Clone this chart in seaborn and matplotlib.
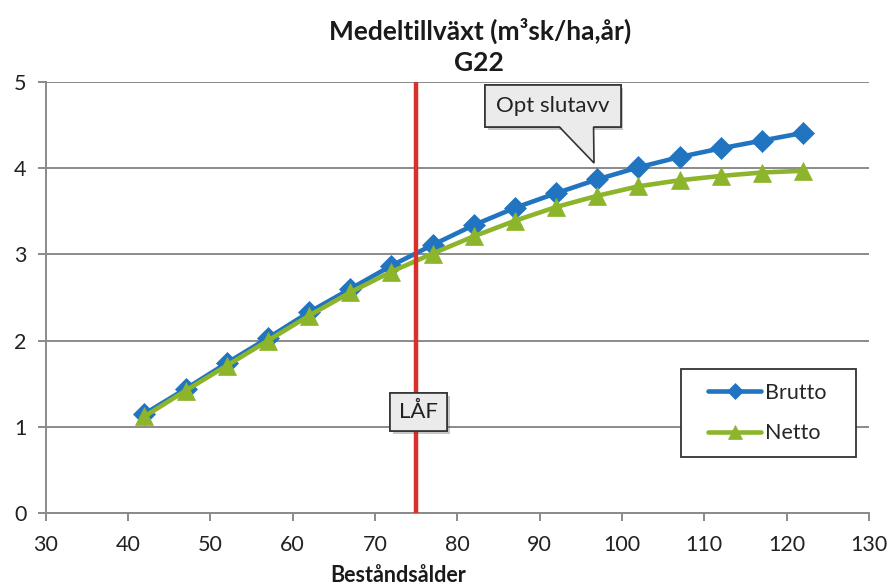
import matplotlib
matplotlib.use("Agg")
import matplotlib.pyplot as plt
import matplotlib.patheffects as pe
from matplotlib.patches import Rectangle, Polygon
import seaborn as sns
import pandas as pd

# Stand age (years) and mean annual increment (m3sk/ha, year)
ages = [42, 47, 52, 57, 62, 67, 72, 77, 82, 87, 92, 97, 102, 107, 112, 117, 122]
brutto = [1.15, 1.44, 1.74, 2.03, 2.33, 2.60, 2.87, 3.11, 3.34, 3.54, 3.71,
          3.87, 4.01, 4.13, 4.23, 4.32, 4.41]
netto = [1.12, 1.42, 1.71, 2.00, 2.29, 2.56, 2.80, 3.01, 3.21, 3.39, 3.55,
         3.68, 3.79, 3.86, 3.91, 3.95, 3.97]
series_names = ["Brutto", "Netto"]
x_ticks = [30, 40, 50, 60, 70, 80, 90, 100, 110, 120, 130]
y_ticks = [0, 1, 2, 3, 4, 5]
laf_age = 75
opt_point = (96.6, 4.06)

sns.set_theme(style="white")
plt.rcParams["font.family"] = ["Lato", "DejaVu Sans"]

df = pd.DataFrame({"age": ages, "Brutto": brutto, "Netto": netto})

fig = plt.figure(figsize=(8.88, 5.87), dpi=100)
ax = fig.add_axes([45.7 / 888, 74 / 587, 823.3 / 888, 431 / 587])

blue = "#2174c0"
green = "#8db52b"
box_fc = "#ebebeb"
box_ec = "#333333"

sns.lineplot(data=df, x="age", y="Brutto", ax=ax, color=blue, lw=3.3,
             marker="D", markersize=11, markeredgecolor=blue,
             markeredgewidth=0.5, label=series_names[0], zorder=4)
sns.lineplot(data=df, x="age", y="Netto", ax=ax, color=green, lw=3.3,
             marker="^", markersize=13.5, markeredgecolor=green,
             markeredgewidth=0.5, label=series_names[1], zorder=5)

# LÅF vertical marker
ax.plot([laf_age, laf_age], [0, 5], color="#d9302c", lw=3.2, zorder=6,
        solid_capstyle="butt")

ax.set_xlim(30, 130)
ax.set_ylim(0, 5)
ax.set_xticks(x_ticks)
ax.set_yticks(y_ticks)
ax.set_xticklabels([str(v) for v in x_ticks], fontsize=15.5, color="#222222")
ax.set_yticklabels([str(v) for v in y_ticks], fontsize=15.5, color="#222222")
ax.set_xlabel("")
ax.set_ylabel("")

ax.grid(axis="y", color="#8a8a8a", lw=1.4)
ax.grid(axis="x", visible=False)
ax.set_axisbelow(True)
for side in ["top", "right"]:
    ax.spines[side].set_visible(False)
for side in ["left", "bottom"]:
    ax.spines[side].set_color("#8a8a8a")
    ax.spines[side].set_linewidth(1.4)
ax.tick_params(axis="both", which="major", direction="out", length=6,
               width=1.4, color="#8a8a8a", pad=8, left=True, bottom=True)
ax.tick_params(axis="x", pad=10)

# Legend box drawn separately so its frame can be sized freely
frame = Rectangle((0.7716, 0.130), 0.2126, 0.204, transform=ax.transAxes,
                  fc="white", ec="#333333", lw=1.3, zorder=9)
ax.add_patch(frame)
leg = ax.legend(loc="center", bbox_to_anchor=(0.876, 0.232),
                frameon=False, fontsize=15.5, handlelength=2.5,
                handletextpad=0.15, labelspacing=0.95, borderpad=0,
                markerscale=0.75)
leg.set_zorder(10)

shadow = [pe.withSimplePatchShadow(offset=(2, -2), alpha=0.3),
          pe.Normal()]

# Callout "Opt slutavv": text box plus a pointer down to the curve
opt = ax.text(91.6, 4.72, "Opt slutavv", ha="center", va="center",
              fontsize=16, color="#222222", zorder=8,
              bbox=dict(boxstyle="square,pad=0.5", fc=box_fc, ec=box_ec,
                        lw=1.2))
opt.get_bbox_patch().set_path_effects(shadow)

fig.canvas.draw()
bb = opt.get_bbox_patch().get_window_extent(fig.canvas.get_renderer())
inv = ax.transData.inverted()
(bx0, by0), (bx1, by1) = inv.transform([(bb.x0, bb.y0), (bb.x1, bb.y1)])
base_l = bx0 + 0.55 * (bx1 - bx0)
base_r = bx0 + 0.80 * (bx1 - bx0)
eps = 0.015
ax.add_patch(Polygon([(base_l, by0 + eps), (base_r, by0 + eps), opt_point],
                     closed=True, fc=box_fc, ec="none", zorder=8.5))
ax.plot([base_l, opt_point[0], base_r], [by0, opt_point[1], by0],
        color=box_ec, lw=1.2, zorder=8.6, solid_joinstyle="miter")

laf = ax.text(laf_age + 0.3, 1.17, "LÅF", ha="center", va="center",
              fontsize=16, color="#222222", zorder=8,
              bbox=dict(boxstyle="square,pad=0.4", fc=box_fc, ec=box_ec,
                        lw=1.2))
laf.get_bbox_patch().set_path_effects(shadow)

fig.text(480 / 888, 1 - 31 / 587, "Medeltillväxt (m³sk/ha,år)", ha="center",
         va="center", fontsize=19, fontweight="bold", color="#1a1a1a")
fig.text(479 / 888, 1 - 63 / 587, "G22", ha="center", va="center",
         fontsize=19, fontweight="bold", color="#1a1a1a")
fig.text(398 / 888, 1 - 576 / 587, "Beståndsålder", ha="center",
         va="center", fontsize=15.5, fontweight="bold", color="#1a1a1a")

fig.savefig("out.png", dpi=100)
